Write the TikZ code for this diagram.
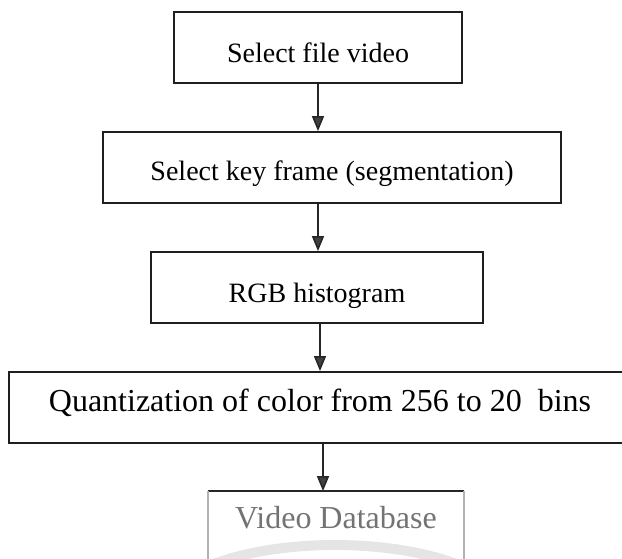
\documentclass[tikz,border=0pt]{standalone}
\usepackage{fontspec}
\setmainfont{Liberation Serif}
\usetikzlibrary{arrows.meta}
\begin{document}
\begin{tikzpicture}[x=1pt,y=-1pt,
  stepbox/.style={draw=black!88, line width=1.8pt, rectangle, inner sep=0pt,
    minimum height=71pt, text depth=0pt, font=\fontsize{28}{32}\selectfont},
  bigtext/.style={font=\fontsize{32}{36}\selectfont},
  flow/.style={draw=black!85, line width=1.6pt,
    -{Triangle[length=15pt,width=12pt,fill=black!75]}}]
\useasboundingbox (0,0) rectangle (622,558);
\begin{scope}
\clip (0,0) rectangle (622,558);
% process steps (text height sets where the baseline sits in each box)
\node[stepbox, text height=30pt, minimum width=288pt] (b1) at (318,47.5) {Select file video};
\node[stepbox, text height=26pt, minimum width=458pt] (b2) at (332,167.5) {Select key frame (segmentation)};
\node[stepbox, text height=30pt, minimum width=332pt] (b3) at (317,287.5) {RGB histogram};
\node[stepbox, bigtext, text height=8pt, minimum width=622pt] (b4) at (320,407.5) {Quantization of color from 256 to 20\ \ bins};
% database box, partly faded
\node[stepbox, bigtext, text height=1pt, draw=none, text=black!55, minimum width=254pt] (b5) at (336,527.5) {Video Database};
\draw[black!85, line width=1.8pt] (b5.north west) -- (b5.north east);
\draw[black!30, line width=1.4pt] (b5.north west) -- (b5.south west)
  (b5.north east) -- (b5.south east);
% faint stamp arc at the foot
\draw[black!10, line width=10pt] (190,575) .. controls (260,535) and (410,535) .. (480,575);
% connectors
\draw[flow] (b1.south) -- (b1.south |- b2.north);
\draw[flow] (b1.south |- b2.south) -- (b1.south |- b3.north);
\draw[flow] ([xshift=3pt]b3.south) -- ([xshift=3pt]b3.south |- b4.north);
\draw[flow] ([xshift=6pt]b3.south |- b4.south) -- ([xshift=6pt]b3.south |- b5.north);
\end{scope}
\end{tikzpicture}
\end{document}
